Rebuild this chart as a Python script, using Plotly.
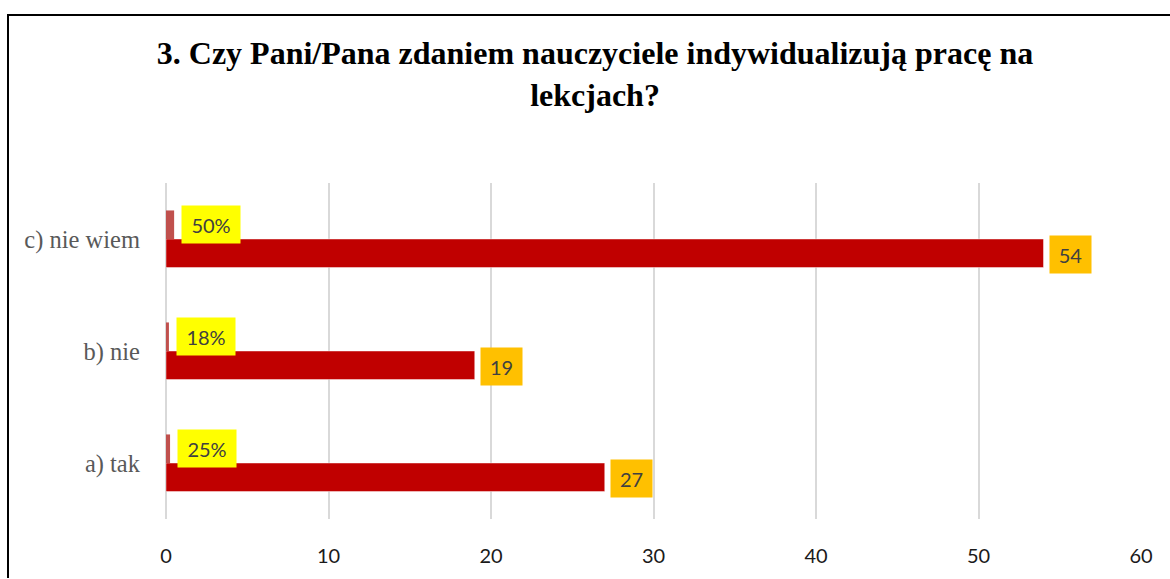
import plotly.graph_objects as go

categories = ["a) tak", "b) nie", "c) nie wiem"]
counts = [27, 19, 54]
percents = [0.25, 0.18, 0.50]
x_ticks = [0, 10, 20, 30, 40, 50, 60]
title_lines = ["3. Czy Pani/Pana zdaniem nauczyciele indywidualizują pracę na", "lekcjach?"]

W, H = 1170, 579
L, R, T, B = 166, 29, 183, 54

fig = go.Figure()
fig.add_trace(go.Bar(
    y=categories, x=counts, orientation="h", name="liczba",
    marker=dict(color="#C00000", line=dict(color="rgba(255,255,255,0.45)", width=1)),
))
fig.add_trace(go.Bar(
    y=categories, x=percents, orientation="h", name="procent",
    marker=dict(color="#C0504D", line=dict(width=0)),
))

label_font = dict(family="Lato, Open Sans, sans-serif", size=20, color="#404040")
for cat, c, p in zip(categories, counts, percents):
    fig.add_annotation(
        x=c, y=cat, xref="x", yref="y", text=str(c), showarrow=False,
        xanchor="left", yanchor="middle", xshift=5, yshift=-15,
        bgcolor="#FFC000", borderpad=1, width=39, height=35, font=label_font,
    )
    fig.add_annotation(
        x=p, y=cat, xref="x", yref="y", text=f"{round(p*100)}%", showarrow=False,
        xanchor="left", yanchor="middle", xshift=7, yshift=15,
        bgcolor="#FFFF00", borderpad=1, width=56, height=35, font=label_font,
    )

# outer frame (top and left edges visible)
pw, ph = W - L - R, H - T - B
def px_to_paper_x(px):
    return (px - L) / pw
def px_to_paper_y(py):
    return (H - B - py) / ph
fig.add_shape(
    type="path", xref="paper", yref="paper",
    path=f"M {px_to_paper_x(8)} {px_to_paper_y(585)} L {px_to_paper_x(8)} {px_to_paper_y(12)} L {px_to_paper_x(1175)} {px_to_paper_y(12)}",
    line=dict(color="black", width=2),
)

fig.update_layout(
    width=W, height=H,
    margin=dict(l=L, r=R, t=T, b=B),
    paper_bgcolor="white", plot_bgcolor="white",
    barmode="group", bargap=0.49, bargroupgap=0,
    showlegend=False,
    title=dict(
        text="<br>".join("<b>" + s + "</b>" for s in title_lines),
        x=595 / W, xref="container", xanchor="center",
        y=1 - 64 / H, yref="container", yanchor="top",
        font=dict(family="Liberation Serif, Times New Roman, serif", size=32, color="black"),
    ),
    xaxis=dict(
        range=[0, 60], tickvals=x_ticks, showgrid=True, gridcolor="#D9D9D9", gridwidth=2,
        zeroline=True, zerolinecolor="#D9D9D9", zerolinewidth=2, showline=False,
        tickfont=dict(family="Lato, Open Sans, sans-serif", size=20, color="#1a1a1a"),
        ticklabelstandoff=23,
    ),
    yaxis=dict(
        categoryorder="array", categoryarray=categories, showgrid=False, showline=False,
        tickfont=dict(family="Liberation Serif, Times New Roman, serif", size=24.5, color="#595959"),
        ticklabelstandoff=25,
    ),
)

fig.write_html(
    "out.html",
    config={"displayModeBar": False},
    post_script="document.body.style.margin='0';document.body.style.padding='0';",
)
